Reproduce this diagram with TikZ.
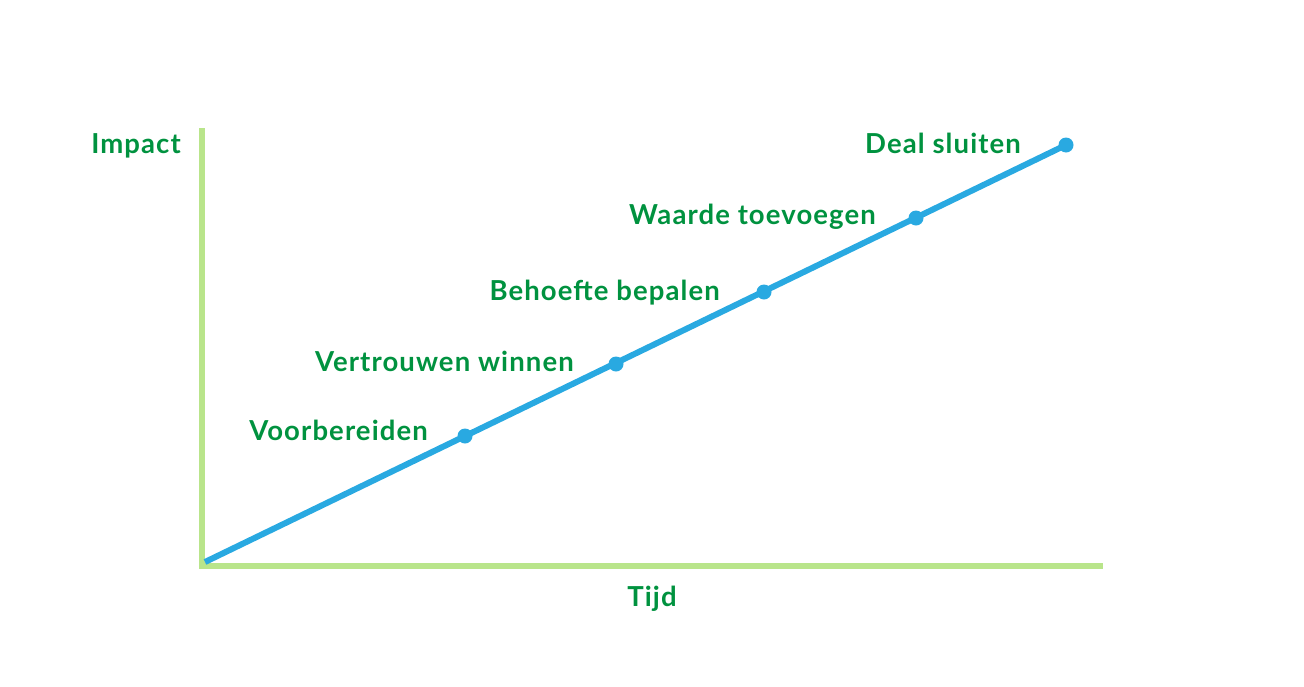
\documentclass[tikz,border=0pt]{standalone}
\usepackage{fontspec}
\setmainfont{Lato}[UprightFont=* Bold,LetterSpace=4]
\definecolor{txtgreen}{HTML}{00923F}
\definecolor{axisgreen}{HTML}{B9E58B}
\definecolor{lineblue}{HTML}{29A9E1}
\begin{document}
\begin{tikzpicture}[x=1pt,y=-1pt,
  lbl/.style={text=txtgreen,font=\fontsize{27.5}{30}\selectfont,inner sep=0pt},
  axisline/.style={draw=axisgreen,line width=6pt},
  trend/.style={draw=lineblue,line width=6pt},
  dot/.style={circle,fill=lineblue,minimum size=15pt,inner sep=0pt}]
\useasboundingbox (0,0) rectangle (1304,686);
\coordinate (top) at (202,128);
\coordinate (orig) at (202,566);
\coordinate (right) at (1103,566);
\draw[axisline] (top) -- (202,569);
\draw[axisline] (199,566) -- (right);
\coordinate (start) at (205,562);
\node[dot] (d1) at (465,436) {};
\node[dot] (d2) at (616,364) {};
\node[dot] (d3) at (764,292) {};
\node[dot] (d4) at (916,218) {};
\node[dot] (d5) at (1066,145) {};
\draw[trend] (start) -- (d5.center);
\node[lbl,anchor=base east] (limpact) at (181,153) {Impact};
\node[lbl,anchor=base east] (l5) at (1021,153) {Deal sluiten};
\node[lbl,anchor=base east] (l4) at (876,224) {Waarde toevoegen};
\node[lbl,anchor=base east] (l3) at (720,300) {Behoefte bepalen};
\node[lbl,anchor=base east] (l2) at (574,371) {Vertrouwen winnen};
\node[lbl,anchor=base east] (l1) at (428,440) {Voorbereiden};
\node[lbl,anchor=base] (ltijd) at (652,606) {Tijd};
\end{tikzpicture}
\end{document}
